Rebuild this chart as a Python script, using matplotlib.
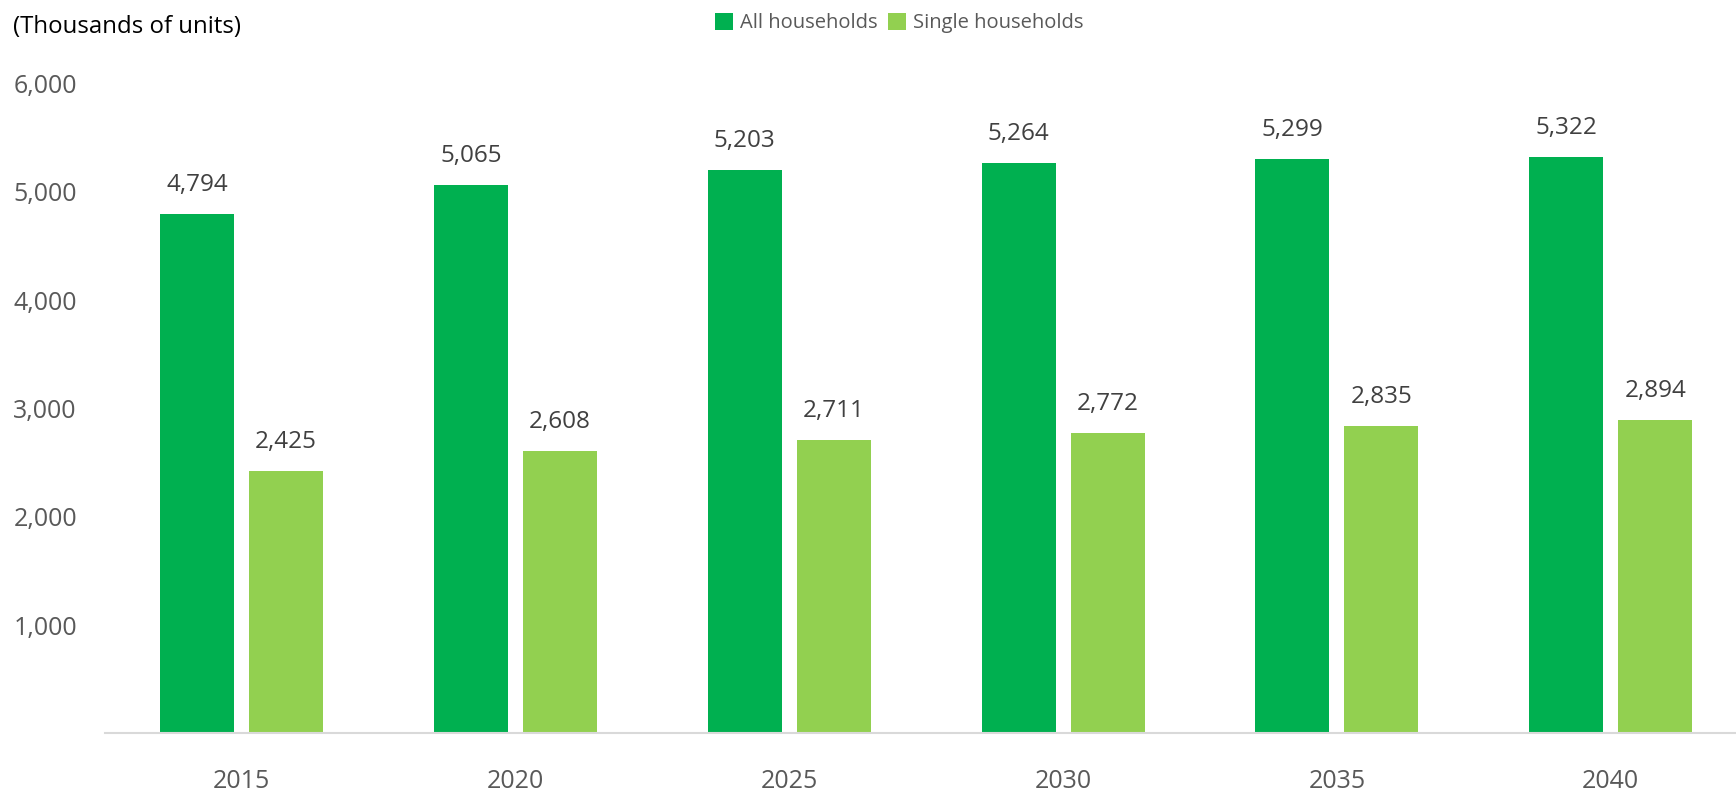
import matplotlib
matplotlib.use("Agg")
import matplotlib.pyplot as plt
import numpy as np

years = ["2015", "2020", "2025", "2030", "2035", "2040"]
all_households = [4794, 5065, 5203, 5264, 5299, 5322]
single_households = [2425, 2608, 2711, 2772, 2835, 2894]
series_names = ["All households", "Single households"]
y_ticks = [1000, 2000, 3000, 4000, 5000, 6000]

DARK = "#00B050"
LIGHT = "#92D050"

plt.rcParams["font.family"] = ["Open Sans", "DejaVu Sans"]

fig = plt.figure(figsize=(17.36, 7.93), dpi=100)
ax = fig.add_axes([0.0603, 0.0752, 0.9464, 0.8196])

x = np.arange(len(years))
w = 0.27
off = 0.1625
b1 = ax.bar(x - off, all_households, w, color=DARK, label=series_names[0])
b2 = ax.bar(x + off, single_households, w, color=LIGHT, label=series_names[1])

for bars, vals in ((b1, all_households), (b2, single_households)):
    for rect, v in zip(bars, vals):
        ax.annotate(f"{v:,}", (rect.get_x() + rect.get_width() / 2, v),
                    xytext=(0, 21), textcoords="offset points",
                    ha="center", va="center", fontsize=17.5, color="#404040")

ax.set_xlim(-0.5, len(years) - 0.5)
ax.set_ylim(0, 6000)
ax.set_xticks(x)
ax.set_xticklabels(years)
ax.set_yticks(y_ticks)
ax.set_yticklabels([f"{t:,}" for t in y_ticks])
ax.tick_params(axis="both", length=0, labelsize=18, labelcolor="#595959")
ax.tick_params(axis="y", pad=20)
ax.tick_params(axis="x", pad=26)

for s in ("top", "right", "left"):
    ax.spines[s].set_visible(False)
ax.spines["bottom"].set_color("#D9D9D9")
ax.spines["bottom"].set_linewidth(1.5)

fig.text(0.0075, 0.966, "(Thousands of units)", fontsize=17.3, color="#000000",
         ha="left", va="center")

fig.legend(handles=[b1, b2], labels=series_names, loc="center",
           bbox_to_anchor=(0.518, 0.971), ncol=2, frameon=False,
           fontsize=14.5, labelcolor="#595959", handlelength=0.9, handleheight=0.9,
           handletextpad=0.35, columnspacing=0.5)

fig.savefig("out.png", dpi=100)
